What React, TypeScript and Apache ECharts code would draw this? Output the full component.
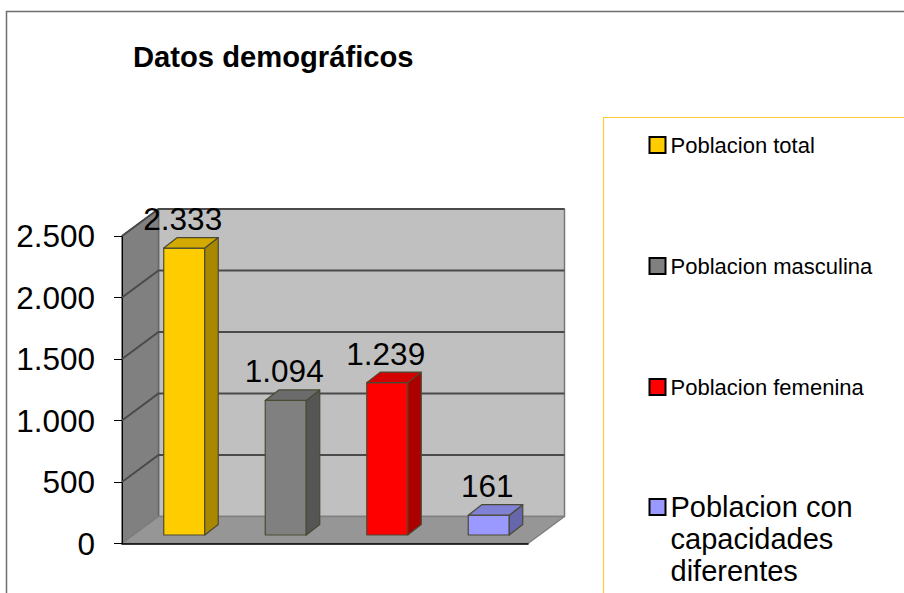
import React, { useEffect, useRef } from "react";
import * as echarts from "echarts";

const titleText = "Datos demográficos";
const categories = ["Poblacion total", "Poblacion masculina", "Poblacion femenina", "Poblacion con capacidades diferentes"];
const values = [2333, 1094, 1239, 161];
const valueTicks = [0, 500, 1000, 1500, 2000, 2500];
const frontColors = ["#FFCC00", "#808080", "#FF0000", "#9999FF"];
const sideColors = ["#A88800", "#555555", "#AA0000", "#6666AA"];
const topColors = ["#D4AA00", "#6B6B6B", "#D40000", "#8080D4"];

const FONT = "'Liberation Sans', Arial, sans-serif";
const WALL: [number, number] = [36.5, -27];
const SHIFT: [number, number] = [11.5, -8.5];
const BAR_DEPTH: [number, number] = [13.5, -10.5];
const BAR_W = 41;

const fmt = (v: number) => {
  const s = String(v);
  return s.length > 3 ? s.slice(0, -3) + "." + s.slice(-3) : s;
};

const poly = (points: number[][], fill: string, stroke: string, lineWidth = 1.5) => ({
  type: "polygon",
  shape: { points },
  style: { fill, stroke, lineWidth, lineJoin: "round" },
});

function renderWalls(params: any, api: any) {
  const g = params.coordSys;
  const [dx, dy] = WALL;
  const l = g.x, r = g.x + g.width, t = g.y, b = g.y + g.height;
  return {
    type: "group",
    children: [
      poly([[l + dx, t + dy], [r + dx, t + dy], [r + dx, b + dy], [l + dx, b + dy]], "#C0C0C0", "#777777"),
      poly([[l, t], [l + dx, t + dy], [l + dx, b + dy], [l, b]], "#808080", "#666666"),
      poly([[l, b], [r, b], [r + dx, b + dy], [l + dx, b + dy]], "#969696", "#808080"),
    ],
  };
}

function renderGridLine(params: any, api: any) {
  const g = params.coordSys;
  const [dx, dy] = WALL;
  const y = api.coord([0, api.value(0)])[1];
  return {
    type: "polyline",
    shape: { points: [[g.x, y], [g.x + dx, y + dy], [g.x + g.width + dx, y + dy]] },
    style: { fill: "none", stroke: "#4A4A4A", lineWidth: 2 },
  };
}

function makeRenderBar(i: number) {
  return (params: any, api: any) => {
    const top = api.coord([api.value(0), api.value(1)]);
    const base = api.coord([api.value(0), 0]);
    const x0 = top[0] + SHIFT[0] - BAR_W / 2;
    const x1 = x0 + BAR_W;
    const yT = top[1] + SHIFT[1];
    const yB = base[1] + SHIFT[1];
    const [bx, by] = BAR_DEPTH;
    const edge = "#4A4A33";
    return {
      type: "group",
      children: [
        poly([[x0, yT], [x1, yT], [x1, yB], [x0, yB]], frontColors[i], edge, 1.2),
        poly([[x1, yT], [x1 + bx, yT + by], [x1 + bx, yB + by], [x1, yB]], sideColors[i], edge, 1.2),
        poly([[x0, yT], [x0 + bx, yT + by], [x1 + bx, yT + by], [x1, yT]], topColors[i], edge, 1.2),
        {
          type: "text",
          z2: 10,
          style: {
            text: fmt(api.value(1)),
            x: x0 + BAR_W / 2 - 1.5,
            y: yT - 29,
            align: "center",
            verticalAlign: "middle",
            fontFamily: FONT,
            fontSize: 31.5,
            fill: "#000000",
          },
        },
      ],
    };
  };
}

export default function App() {
  const ref = useRef<HTMLDivElement>(null);
  useEffect(() => {
    document.body.style.margin = "0";
    const chart = echarts.init(ref.current!, undefined, { renderer: "svg" });
    const legendBase = {
      orient: "vertical",
      left: 648.5,
      height: 1000,
      width: 400,
      padding: 0,
      itemWidth: 16,
      itemHeight: 16,
      icon: "rect",
      selectedMode: false,
      itemStyle: { borderColor: "#000000", borderWidth: 2 },
    };
    chart.setOption({
      animation: false,
      backgroundColor: "#FFFFFF",
      title: {
        text: titleText,
        left: 133,
        top: 42,
        padding: 0,
        textStyle: { fontFamily: FONT, fontSize: 29.2, fontWeight: "bold", color: "#000000" },
      },
      grid: { left: 122, top: 236, width: 406, height: 307.5 },
      xAxis: {
        type: "category",
        data: categories,
        axisLabel: { show: false },
        axisTick: { show: false },
        axisLine: { show: true, lineStyle: { color: "#000000", width: 1.5 } },
        splitLine: { show: false },
      },
      yAxis: {
        type: "value",
        min: 0,
        max: 2500,
        interval: 500,
        axisLabel: {
          show: true,
          margin: 27,
          fontFamily: FONT,
          fontSize: 31.5,
          color: "#000000",
          formatter: (v: number) => fmt(v),
        },
        axisTick: { show: true, length: 8, lineStyle: { color: "#000000", width: 1 } },
        axisLine: { show: true, lineStyle: { color: "#000000", width: 1 } },
        splitLine: { show: false },
      },
      legend: [
        {
          ...legendBase,
          top: 134,
          itemGap: 99,
          textStyle: { fontFamily: FONT, fontSize: 22, color: "#000000" },
          data: categories.slice(0, 3),
        },
        {
          ...legendBase,
          top: 427,
          textStyle: { fontFamily: FONT, fontSize: 29, lineHeight: 32, color: "#000000" },
          formatter: () => "\n\nPoblacion con\ncapacidades\ndiferentes",
          data: categories.slice(3),
        },
      ],
      graphic: [
        {
          type: "rect",
          silent: true,
          shape: { x: 6.5, y: 11.5, width: 1000, height: 1000 },
          style: { fill: "none", stroke: "#6E6E6E", lineWidth: 1.5 },
          z: -1,
        },
        {
          type: "rect",
          silent: true,
          shape: { x: 603.5, y: 117.5, width: 1000, height: 1000 },
          style: { fill: "none", stroke: "#FFCC33", lineWidth: 1.2 },
          z: -1,
        },
      ],
      series: [
        {
          type: "custom",
          name: "walls",
          silent: true,
          z: 0,
          clip: false,
          coordinateSystem: "cartesian2d",
          data: [[0]],
          encode: { y: 0 },
          renderItem: renderWalls,
        },
        {
          type: "custom",
          name: "grid",
          silent: true,
          z: 1,
          clip: false,
          coordinateSystem: "cartesian2d",
          data: valueTicks.filter((v) => v > 0).map((v) => [v]),
          encode: { y: 0 },
          renderItem: renderGridLine,
        },
        ...categories.map((name, i) => ({
          type: "custom",
          name,
          z: 2 + i,
          clip: false,
          coordinateSystem: "cartesian2d",
          itemStyle: { color: frontColors[i] },
          encode: { x: 0, y: 1 },
          data: [[i, values[i]]],
          renderItem: makeRenderBar(i),
        })),
      ],
    });
    return () => chart.dispose();
  }, []);
  return <div ref={ref} style={{ width: 904, height: 593 }} />;
}
